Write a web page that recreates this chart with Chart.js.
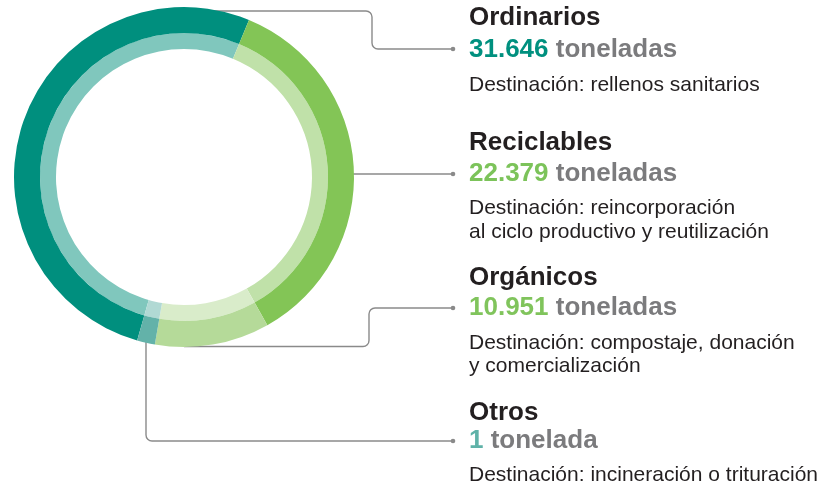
<!DOCTYPE html>
<html lang="es">
<head>
<meta charset="utf-8">
<script src="https://cdn.jsdelivr.net/npm/chart.js@4.4.1/dist/chart.umd.min.js"></script>
<style>
  html, body { margin: 0; padding: 0; background: #ffffff; }
  #wrap { position: relative; width: 830px; height: 490px; overflow: hidden; }
  #c { position: absolute; left: 0; top: 0; }
  .t { position: absolute; white-space: nowrap; font-family: "Liberation Sans", Arial, Helvetica, sans-serif; }
  .title { font-weight: bold; font-size: 26px; line-height: 26px; color: #231f20; }
  .amt { font-weight: bold; font-size: 26px; line-height: 26px; color: #7b7b7d; }
  .desc { font-size: 21px; line-height: 21px; color: #231f20; }
</style>
</head>
<body>
<div id="wrap"><canvas id="c" width="830" height="490"></canvas></div>
<script>
// ---- data ----
const categories = ['Ordinarios', 'Reciclables', 'Orgánicos', 'Otros'];
const tonnes = [31646, 22379, 10951, 1];
const amountLabels = ['31.646', '22.379', '10.951', '1'];
const unitLabels = ['toneladas', 'toneladas', 'toneladas', 'tonelada'];
// share of the ring as drawn in the picture (percent)
const drawnShare = [51.8, 35.6, 10.9, 1.7];
const descriptions = [
  ['Destinación: rellenos sanitarios'],
  ['Destinación: reincorporación', 'al ciclo productivo y reutilización'],
  ['Destinación: compostaje, donación', 'y comercialización'],
  ['Destinación: incineración o trituración']
];

// ---- styles ----
const outerColors = ['#008f7e', '#83c556', '#b5da99', '#63b2a9'];
const innerColors = ['#80c7bd', '#c0e1a9', '#d9ecca', '#b1d9d4'];
const amountColors = ['#00907f', '#7cc35a', '#80c45c', '#5fb2a8'];

// text layout (baselines)
const textX = 469;
const groups = [
  { title: 25, amt: 57, desc: [90.5], dot: 49 },
  { title: 150.5, amt: 181, desc: [214, 237.5], dot: 174 },
  { title: 285.5, amt: 315, desc: [349, 372], dot: 308 },
  { title: 420, amt: 448, desc: [480.5], dot: 441 }
];

const wrap = document.getElementById('wrap');
function addText(cls, baseline, size, html) {
  const d = document.createElement('div');
  d.className = 't ' + cls;
  d.style.left = textX + 'px';
  d.style.top = (baseline - 0.8465 * size) + 'px';
  d.innerHTML = html;
  wrap.appendChild(d);
}
categories.forEach((cat, i) => {
  const g = groups[i];
  addText('title', g.title, 26, cat);
  addText('amt', g.amt, 26, '<span style="color:' + amountColors[i] + '">' + amountLabels[i] + '</span> ' + unitLabels[i]);
  descriptions[i].forEach((line, k) => addText('desc', g.desc[k], 21, line));
});

// leader lines drawn behind the rings
const leaderPlugin = {
  id: 'leaders',
  beforeDatasetsDraw(chart) {
    const arc = chart.getDatasetMeta(0).data[0];
    const cx = arc.x, cy = arc.y, R = arc.outerRadius;
    const ctx = chart.ctx;
    const endX = 453, r = 6;
    ctx.save();
    ctx.strokeStyle = '#8a8a8a';
    ctx.lineWidth = 1.4;
    ctx.lineJoin = 'round';
    // Ordinarios
    let y0 = cy - R + 4, vx = 372, y1 = groups[0].dot;
    ctx.beginPath();
    ctx.moveTo(cx, y0);
    ctx.arcTo(vx, y0, vx, y1, r);
    ctx.arcTo(vx, y1, endX, y1, r);
    ctx.lineTo(endX, y1);
    ctx.stroke();
    // Reciclables
    ctx.beginPath();
    ctx.moveTo(cx + R - 6, groups[1].dot);
    ctx.lineTo(endX, groups[1].dot);
    ctx.stroke();
    // Orgánicos
    y0 = cy + R - 0.5; vx = 369; y1 = groups[2].dot;
    ctx.beginPath();
    ctx.moveTo(cx, y0);
    ctx.arcTo(vx, y0, vx, y1, r);
    ctx.arcTo(vx, y1, endX, y1, r);
    ctx.lineTo(endX, y1);
    ctx.stroke();
    // Otros
    const sx = 146; y1 = groups[3].dot;
    ctx.beginPath();
    ctx.moveTo(sx, cy + R - 10);
    ctx.arcTo(sx, y1, endX, y1, r);
    ctx.lineTo(endX, y1);
    ctx.stroke();
    // dots
    ctx.fillStyle = '#8a8a8a';
    groups.forEach(g => {
      ctx.beginPath();
      ctx.arc(endX, g.dot, 2.3, 0, Math.PI * 2);
      ctx.fill();
    });
    ctx.restore();
  }
};

new Chart(document.getElementById('c'), {
  type: 'doughnut',
  data: {
    labels: categories,
    datasets: [
      { data: drawnShare, backgroundColor: outerColors, borderWidth: 0, weight: 26 },
      { data: drawnShare, backgroundColor: innerColors, borderWidth: 0, weight: 16 }
    ]
  },
  options: {
    responsive: false,
    animation: false,
    rotation: 196,
    cutout: '75.3%',
    hoverOffset: 0,
    layout: { padding: { left: 14, top: 7, right: 476, bottom: 143 } },
    plugins: { legend: { display: false }, tooltip: { enabled: false } },
    events: []
  },
  plugins: [leaderPlugin]
});
</script>
</body>
</html>
